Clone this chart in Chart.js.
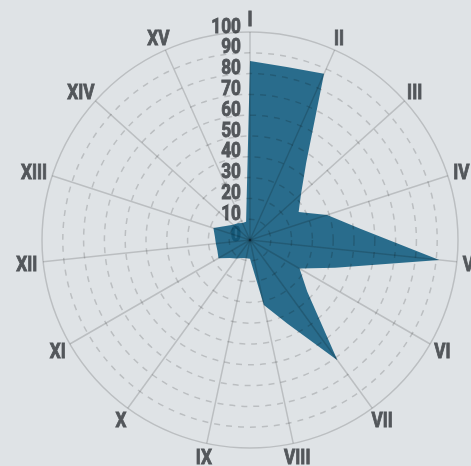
<!DOCTYPE html>
<html>
<head>
<meta charset="utf-8">
<title>Radar</title>
<script src="https://cdn.jsdelivr.net/npm/chart.js@4.4.0/dist/chart.umd.min.js"></script>
<style>
    html, body { margin: 0; padding: 0; background: #dfe3e6; overflow: hidden; }
    #wrap { position: relative; width: 471px; height: 466px; }
</style>
</head>
<body>
<div id="wrap"><canvas id="radarChart"></canvas></div>
<script>
const axisLabels = ['I', 'II', 'III', 'IV', 'V', 'VI', 'VII', 'VIII', 'IX', 'X', 'XI', 'XII', 'XIII', 'XIV', 'XV'];
// one value every 12 degrees: on each numbered axis and half way to the next one
const values = [86, 85, 87.5, 46, 33, 27, 39, 53, 91.5, 43, 27.5, 37, 71.5, 44, 32,
                9, 9, 9.5, 11, 13, 17.5, 16.5, 16.5, 17, 18.5, 13.5, 11, 10, 9, 9];
const tickValues = [0, 10, 20, 30, 40, 50, 60, 70, 80, 90, 100];

const labels = [];
axisLabels.forEach(function (l) {
    labels.push(l);
    labels.push('');
});

const textFont = 'bold 21px Roboto, "DejaVu Sans", sans-serif';
const textColor = '#53575b';
const squeeze = 0.82;   // condensed look
const capHeight = 15;

function drawNarrowText(ctx, text, x, y, align) {
    ctx.save();
    ctx.translate(x, y);
    ctx.scale(squeeze, 1);
    ctx.font = textFont;
    ctx.fillStyle = textColor;
    ctx.strokeStyle = textColor;
    ctx.lineWidth = 0.9;
    ctx.textAlign = align;
    ctx.textBaseline = 'alphabetic';
    ctx.fillText(text, 0, 0);
    ctx.strokeText(text, 0, 0);
    ctx.restore();
}

const radarText = {
    id: 'radarText',
    // tick numbers sit left of the first axis, under the area
    beforeDatasetsDraw(chart) {
        const scale = chart.scales.r;
        const ctx = chart.ctx;
        tickValues.forEach(function (v) {
            const d = scale.getDistanceFromCenterForValue(v);
            drawNarrowText(ctx, String(v), scale.xCenter - 9, scale.yCenter - d - 7 + capHeight / 2, 'right');
        });
    },
    afterDraw(chart) {
        const scale = chart.scales.r;
        const ctx = chart.ctx;
        ctx.save();
        ctx.font = textFont;
        labels.forEach(function (text, i) {
            if (!text) return;
            const angle = scale.getIndexAngle(i);
            const pos = scale.getPointPosition(i, scale.drawingArea + 6);
            const w = ctx.measureText(text).width * squeeze;
            const x = pos.x + Math.sin(angle) * w / 2;
            const y = pos.y - Math.cos(angle) * capHeight / 2;
            drawNarrowText(ctx, text, x, y + capHeight / 2, 'center');
        });
        ctx.restore();
    }
};

const ctx = document.getElementById('radarChart').getContext('2d');

new Chart(ctx, {
    type: 'radar',
    data: {
        labels: labels,
        datasets: [{
            data: values,
            fill: true,
            backgroundColor: 'rgba(9, 87, 123, 0.85)',
            borderWidth: 0,
            pointRadius: 0,
            tension: 0
        }]
    },
    options: {
        responsive: true,
        maintainAspectRatio: false,
        animation: false,
        layout: {
            padding: { left: 42, right: 13, top: 32, bottom: 18 }
        },
        plugins: {
            legend: { display: false },
            tooltip: { enabled: false }
        },
        scales: {
            r: {
                min: 0,
                max: 100,
                ticks: { stepSize: 10, display: false },
                pointLabels: { display: false },
                grid: {
                    z: 1,
                    circular: true,
                    color: 'rgba(0, 0, 0, 0.16)',
                    lineWidth: 1.5
                },
                border: {
                    dash: function (c) {
                        return c.tick && c.tick.value === 100 ? [] : [6, 6];
                    }
                },
                angleLines: {
                    color: 'rgba(0, 0, 0, 0.16)',
                    lineWidth: function (c) {
                        return c.index % 2 ? 0 : 1.5;
                    }
                }
            }
        }
    },
    plugins: [radarText]
});
</script>
</body>
</html>
